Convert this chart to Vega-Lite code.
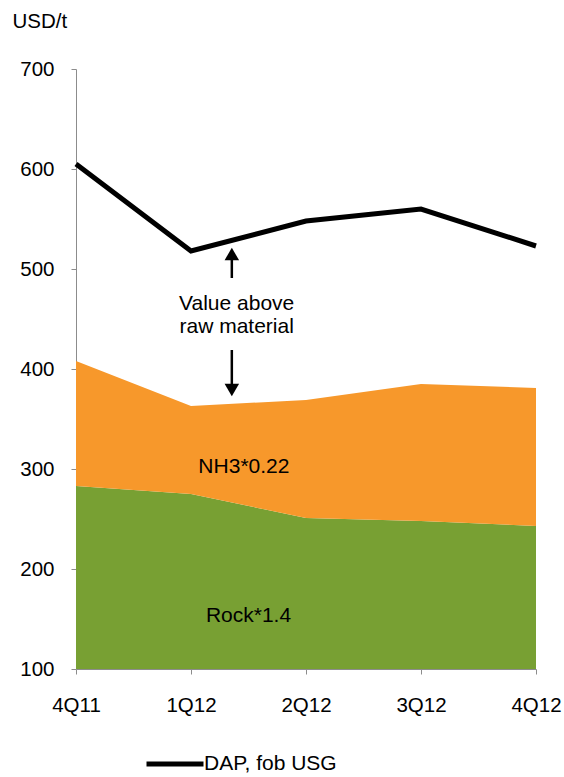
{
  "$schema": "https://vega.github.io/schema/vega-lite/v6.json",
  "width": 460,
  "height": 600,
  "autosize": {"type": "none"},
  "padding": {"left": 76, "top": 69, "right": 28, "bottom": 108},
  "background": "white",
  "config": {
    "view": {"stroke": null},
    "font": "Liberation Sans",
    "axis": {
      "grid": false,
      "domainColor": "#8c8c8c",
      "tickColor": "#8c8c8c",
      "tickSize": 5,
      "labelFontSize": 20.5,
      "labelColor": "#000000",
      "labelFont": "Liberation Sans"
    }
  },
  "data": {
    "values": [
      {"i": 0, "q": "4Q11", "rock": 283, "total": 408, "dap": 605},
      {"i": 1, "q": "1Q12", "rock": 275, "total": 363, "dap": 518},
      {"i": 2, "q": "2Q12", "rock": 251, "total": 369, "dap": 548},
      {"i": 3, "q": "3Q12", "rock": 248, "total": 385, "dap": 560},
      {"i": 4, "q": "4Q12", "rock": 243, "total": 381, "dap": 523}
    ]
  },
  "layer": [
    {
      "mark": {"type": "area", "color": "#78A033", "interpolate": "linear"},
      "encoding": {
        "x": {
          "field": "i", "type": "quantitative",
          "scale": {"domain": [0, 4], "nice": false, "zero": false},
          "axis": {
            "title": null,
            "values": [0, 1, 2, 3, 4],
            "labelExpr": "['4Q11','1Q12','2Q12','3Q12','4Q12'][datum.value]",
            "labelPadding": 21,
            "labelFlush": false
          }
        },
        "y": {
          "field": "rock", "type": "quantitative",
          "scale": {"domain": [100, 700], "nice": false, "zero": false},
          "axis": {
            "title": "USD/t",
            "values": [100, 200, 300, 400, 500, 600, 700],
            "labelPadding": 17,
            "titleAngle": 0,
            "titleAlign": "left",
            "titleBaseline": "alphabetic",
            "titleX": -64,
            "titleY": -42,
            "titleFontSize": 20.5,
            "titleFontWeight": "normal",
            "titleColor": "#000000",
            "titleFont": "Liberation Sans"
          }
        },
        "y2": {"datum": 100}
      }
    },
    {
      "mark": {"type": "area", "color": "#F7982B", "interpolate": "linear"},
      "encoding": {
        "x": {"field": "i", "type": "quantitative"},
        "y": {"field": "total", "type": "quantitative"},
        "y2": {"field": "rock"}
      }
    },
    {
      "mark": {"type": "line", "strokeWidth": 5},
      "encoding": {
        "x": {"field": "i", "type": "quantitative"},
        "y": {"field": "dap", "type": "quantitative"},
        "color": {
          "datum": "DAP, fob USG",
          "type": "nominal",
          "scale": {"range": ["#000000"]},
          "legend": {
            "title": null,
            "orient": "none",
            "legendX": 68,
            "legendY": 664,
            "symbolType": "stroke",
            "symbolStrokeWidth": 5,
            "symbolSize": 3249,
            "labelFontSize": 21,
            "labelColor": "#000000",
            "labelFont": "Liberation Sans",
            "labelOffset": -2,
            "padding": 0
          }
        }
      }
    },
    {
      "data": {
        "values": [
          {"x": 1.355, "y": 491, "y2": 512},
          {"x": 1.355, "y": 419, "y2": 380}
        ]
      },
      "mark": {"type": "rule", "strokeWidth": 2.5, "color": "#000000"},
      "encoding": {
        "x": {"field": "x", "type": "quantitative"},
        "y": {"field": "y", "type": "quantitative"},
        "y2": {"field": "y2"}
      }
    },
    {
      "data": {
        "values": [
          {"x": 1.355, "y": 515, "s": "triangle-up"},
          {"x": 1.355, "y": 379, "s": "triangle-down"}
        ]
      },
      "mark": {"type": "point", "filled": true, "color": "#000000", "size": 210, "opacity": 1},
      "encoding": {
        "x": {"field": "x", "type": "quantitative"},
        "y": {"field": "y", "type": "quantitative"},
        "shape": {"field": "s", "type": "nominal", "scale": null}
      }
    },
    {
      "data": {
        "values": [
          {"x": 1.397, "y": 459, "t": "Value above"},
          {"x": 1.397, "y": 436, "t": "raw material"},
          {"x": 1.46, "y": 296, "t": "NH3*0.22"},
          {"x": 1.5, "y": 147, "t": "Rock*1.4"}
        ]
      },
      "mark": {"type": "text", "fontSize": 21, "font": "Liberation Sans", "color": "#000000", "align": "center", "baseline": "alphabetic"},
      "encoding": {
        "x": {"field": "x", "type": "quantitative"},
        "y": {"field": "y", "type": "quantitative"},
        "text": {"field": "t"}
      }
    }
  ]
}
